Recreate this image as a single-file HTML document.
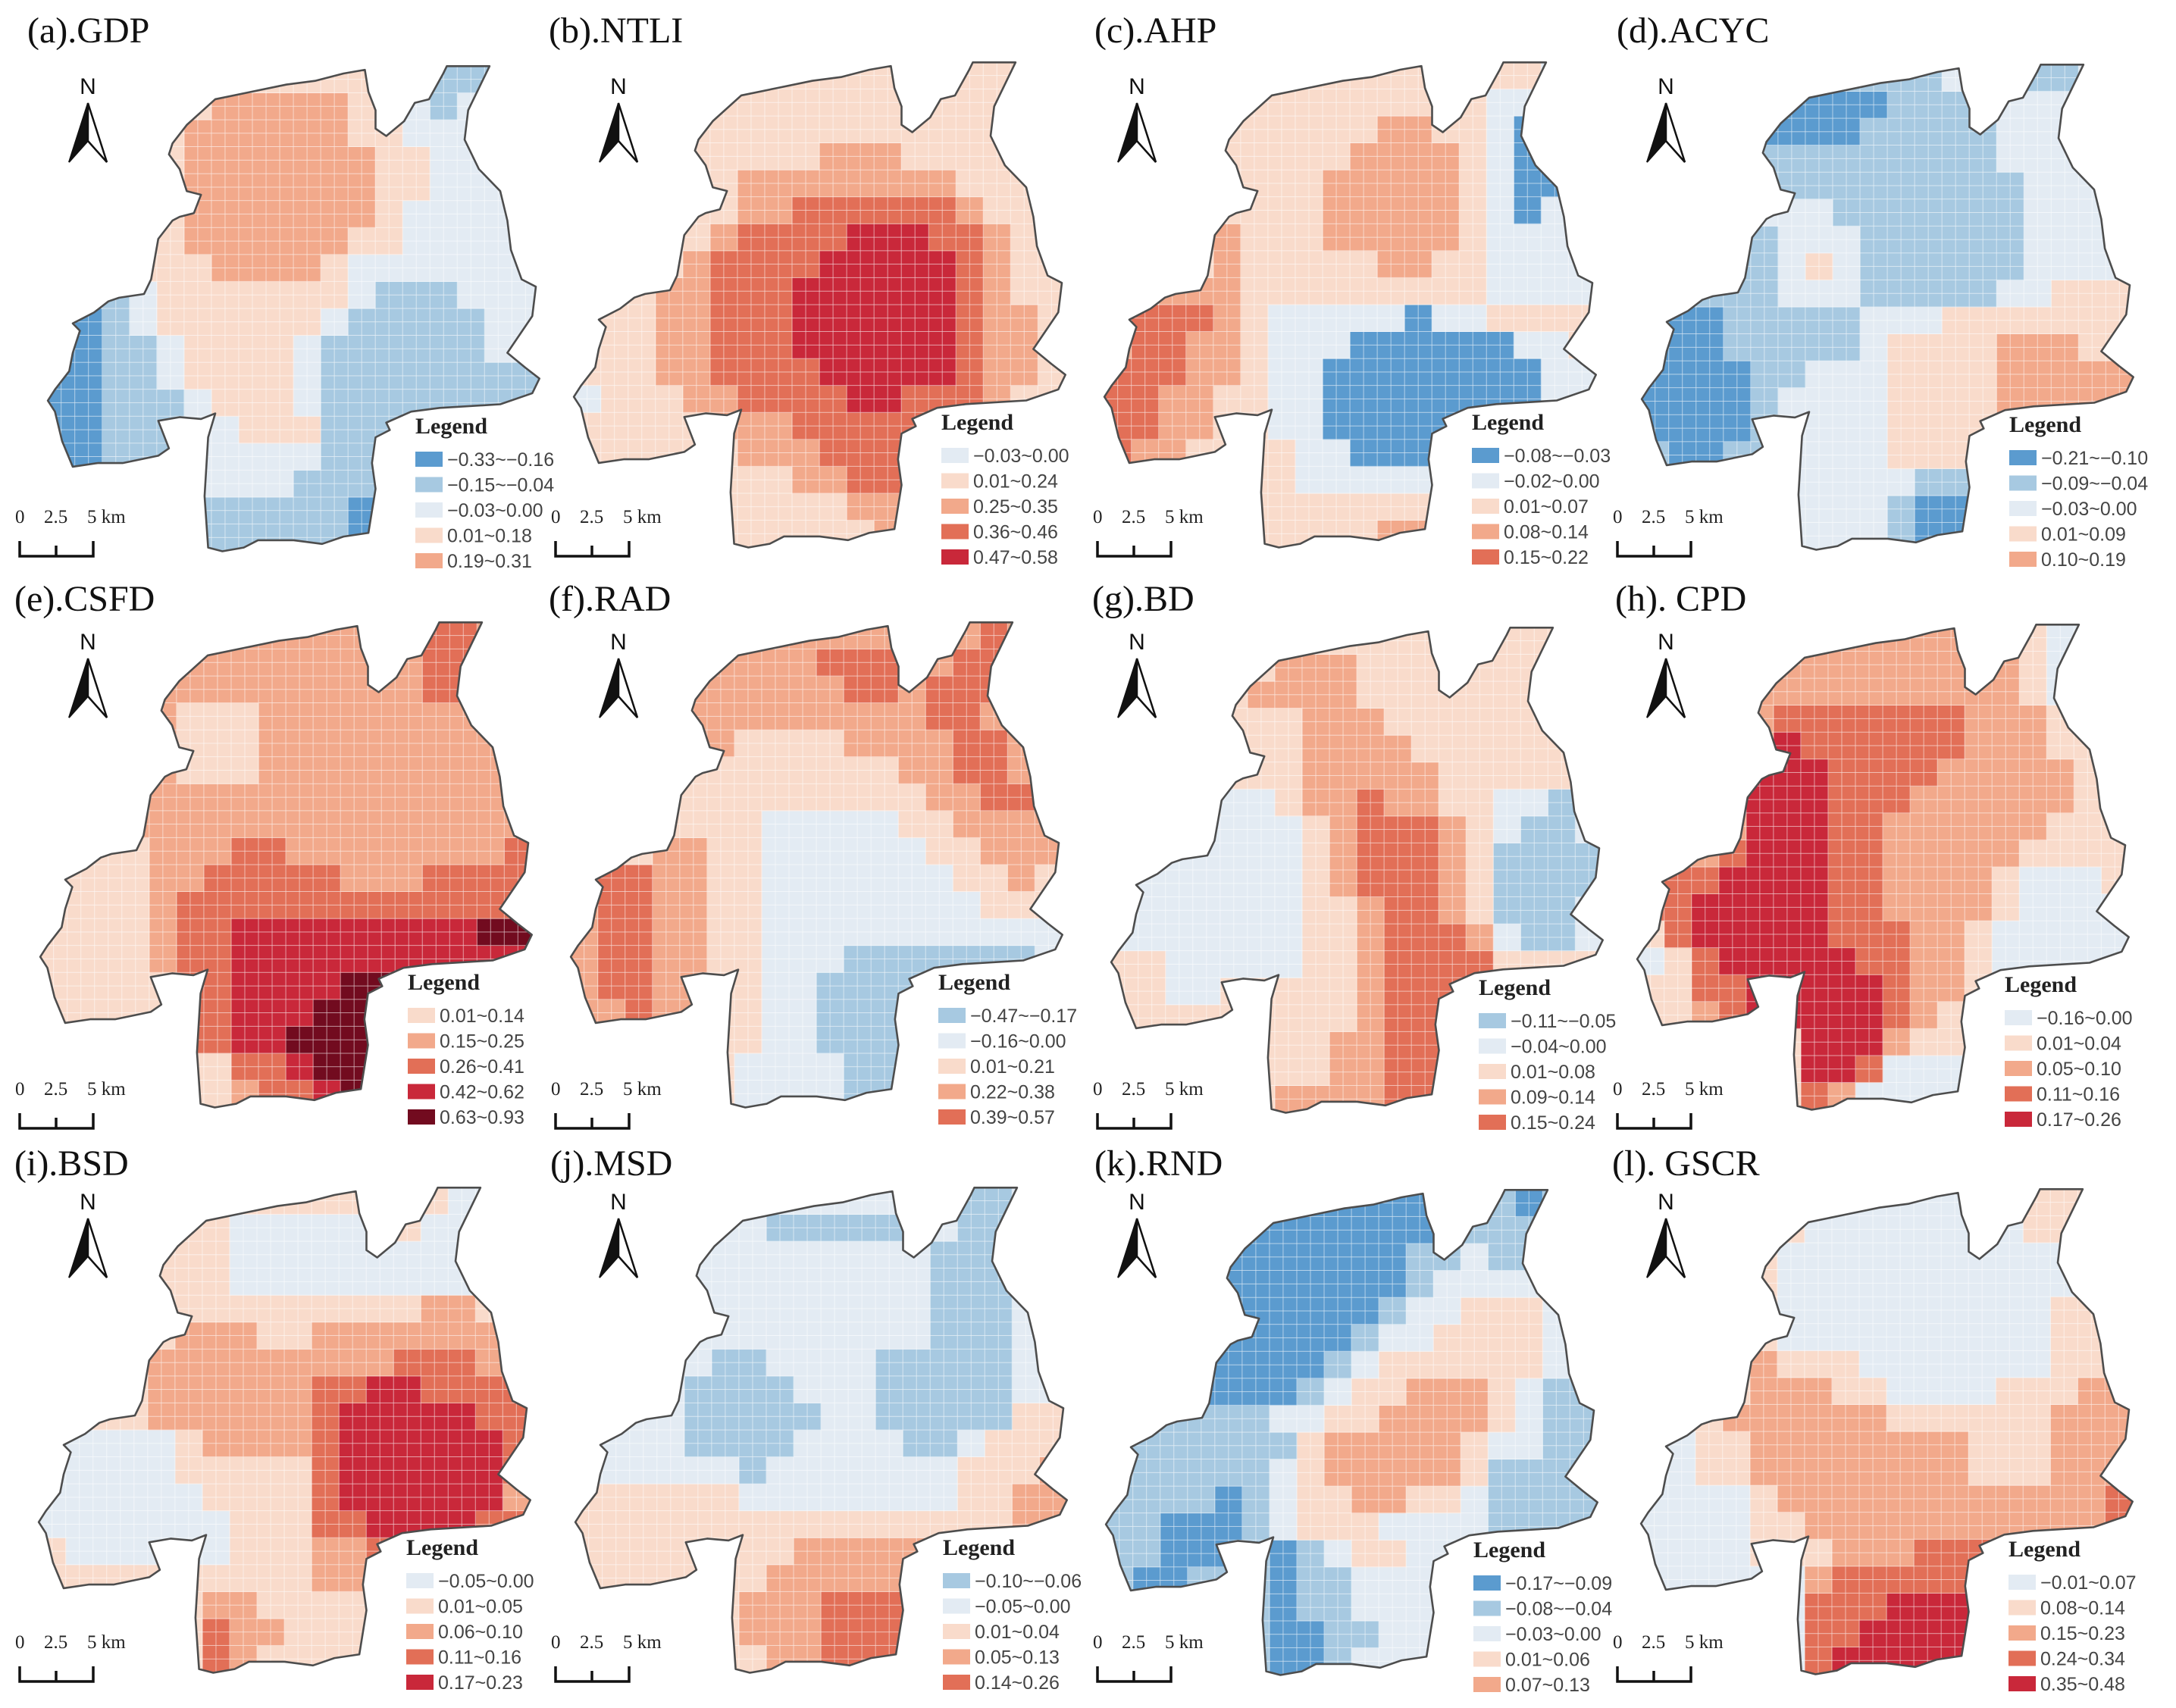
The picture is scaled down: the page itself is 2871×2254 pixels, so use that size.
<!DOCTYPE html>
<html><head><meta charset="utf-8"><title>Spatial coefficient maps</title>
<style>
html,body{margin:0;padding:0;background:#fff;}
svg{display:block;}
.ttl{font-family:"Liberation Serif",serif;font-size:48px;fill:#111;}
.leg{font-family:"Liberation Serif",serif;font-size:30px;font-weight:bold;fill:#222;}
.lab{font-family:"Liberation Sans",sans-serif;font-size:25px;fill:#444;}
.sc{font-family:"Liberation Serif",serif;font-size:25px;fill:#222;}
.nn{font-family:"Liberation Sans",sans-serif;font-size:30px;fill:#111;}
</style></head>
<body>
<svg id="fig" xmlns="http://www.w3.org/2000/svg" width="2871" height="2254" viewBox="0 0 2871 2254">
<rect x="0" y="0" width="2871" height="2254" fill="#ffffff"/>
<defs>
<clipPath id="mapclip" clipPathUnits="userSpaceOnUse"><polygon id="clipPoly" points=""/></clipPath>
<pattern id="gridpat" patternUnits="userSpaceOnUse" x="130" y="180" width="38.333" height="36.667">
<path d="M38.333 0 V36.667 M0 36.667 H38.333" stroke="#ffffff" stroke-width="3" stroke-opacity="0.75" fill="none"/>
</pattern>
</defs>
</svg>
<script>
// ---- data ----
const titles=["(a).GDP","(b).NTLI","(c).AHP","(d).ACYC","(e).CSFD","(f).RAD","(g).BD","(h). CPD","(i).BSD","(j).MSD","(k).RND","(l). GSCR"];
const legendA=["\u22120.33~\u22120.16","\u22120.15~\u22120.04","\u22120.03~0.00","0.01~0.18","0.19~0.31"];
const legendB=["\u22120.03~0.00","0.01~0.24","0.25~0.35","0.36~0.46","0.47~0.58"];
const legendC=["\u22120.08~\u22120.03","\u22120.02~0.00","0.01~0.07","0.08~0.14","0.15~0.22"];
const legendD=["\u22120.21~\u22120.10","\u22120.09~\u22120.04","\u22120.03~0.00","0.01~0.09","0.10~0.19"];
const legendE=["0.01~0.14","0.15~0.25","0.26~0.41","0.42~0.62","0.63~0.93"];
const legendF=["\u22120.47~\u22120.17","\u22120.16~0.00","0.01~0.21","0.22~0.38","0.39~0.57"];
const legendG=["\u22120.11~\u22120.05","\u22120.04~0.00","0.01~0.08","0.09~0.14","0.15~0.24"];
const legendH=["\u22120.16~0.00","0.01~0.04","0.05~0.10","0.11~0.16","0.17~0.26"];
const legendI=["\u22120.05~0.00","0.01~0.05","0.06~0.10","0.11~0.16","0.17~0.23"];
const legendJ=["\u22120.10~\u22120.06","\u22120.05~0.00","0.01~0.04","0.05~0.13","0.14~0.26"];
const legendK=["\u22120.17~\u22120.09","\u22120.08~\u22120.04","\u22120.03~0.00","0.01~0.06","0.07~0.13"];
const legendL=["\u22120.01~0.07","0.08~0.14","0.15~0.23","0.24~0.34","0.35~0.48"];

const gridA=["333333333333331111","333333444443221222","333334444443322222","333334444444332222","333334444444332222","333334444444322222","333334444443322222","333333444432222222","111233333332111222","001233333321111122","001123333211111122","001123333211111111","001112333211111111","001112233311111111","001112222211111111","001112222111111111","111111111110111111","111111111110111111"];
const gridB=["111111111111111111","111111111111111111","111111111111111111","111111111222111111","111111222222221111","111111223333332111","111112333344433211","111123333444443211","111223334444443211","111223334444443221","111223334444443221","111223333444443221","011122333344333211","111112223333322222","111111222333332222","111111112233111111","111111111122111111","111111111112111111"];
const gridC=["222222222222222212","222222222222221112","222222222233221012","222222222333321001","222222223333321001","222222223333321011","222232223333321112","222232222233221111","223332222222221111","344432111110112222","344332111000000112","444332110000000011","443322110000000011","443322110000001111","433222211000011111","222222211111222222","222222222222222222","222222222233222222"];
const gridD=["111111111112211122","000000000111122222","000000001111122222","111111111111122222","111111111111112222","111122211111112222","111112221111112222","111112321111112222","111112221111122333","000111112223333333","000111112333344433","000011222333344444","000012222333344444","000012222333322222","100112222333322222","222222222211222222","222222222100122222","222222222100122222"];
const gridE=["111111111111112211","111111111111112211","111111111111112211","111110001111111111","111110001111111111","111110001111111111","111111111111111111","111111111111111111","000011122111111112","000011222221112222","000012222222222222","000012233333333344","000012233333333333","000002233334422222","000002233344422222","000002233444222222","000000022344222222","000000012234222222"];
const gridF=["333333333333333433","333333333444334433","333333333344344433","333333333333344333","333333222233334433","222222222222334433","222222222222233443","222222211111223333","222332211111122333","344332211111112232","344332211111111222","344332211111111111","344332211100000001","344332211000000000","334332211000022222","333332211000122222","333332111100122222","333332111100122222"];
const gridG=["222222222222222222","222222333222222222","222223333222222222","222222233322222222","222222233332222222","222222233333222222","222211233433221101","111111123444321001","111111123444320000","111111123444320000","111111122344320001","111111122344431001","221111122344442222","221122222344422222","222222222344422222","222222223344222222","222222223344222222","222222333344222222"];
const gridH=["222222222222221002","222222222222221002","222222222222221002","222223333333222111","222224333333222111","222244433332222211","222244433322222211","222244433222222111","222344433222221111","233444433222210001","334444433222210000","134444433322100000","013444443322100000","113344444322111111","112344444321111111","111111444211111111","111111443000111111","111111320000111111"];
const gridI=["111111111111111001","111111100000110011","111111100000000011","111111100000000011","111111111111112211","111112221122222221","111122222222233321","111122222233443333","111122222234444433","000001222234444443","000001111134444443","000000111134444442","000000011133444433","100000011122322222","111111111122311111","111111221111111111","111111322111111111","111111321111111111"];
const gridJ=["111111111111110011","111111100000110011","111111111111100011","111111111111100011","111111111111100011","111111111111100011","111110011110000011","111100001110000011","111100000110000022","111100001111001222","111111011111112223","222222111111112233","222222222222222233","222222223333322222","222222233333322222","222222333444222222","222222333444222222","222222233444222222"];
const gridK=["000000000000011011","000000000000111111","000000000001121122","000000000001222222","000000000012233322","000000000122333322","000000001233333322","000000012334443211","111111223344443211","111111134444432211","111111234444431111","111101233443321111","110001233322221111","110001012332222222","100111011222222222","111111011222222222","111111001122222222","111111001222222222"];
const gridL=["000000000000001111","111111000000001111","111110000000000011","111110000000000011","111110000000000111","111110000000000111","111121110000000111","111122211000011122","111222222111111222","001122222222111222","001122222222111222","000012222222222223","000011222222222223","000011122233322222","000000233333322222","000000333444322222","000000334444222222","000000344444222222"];
const grids=[gridA,gridB,gridC,gridD,gridE,gridF,gridG,gridH,gridI,gridJ,gridK,gridL];
const legends=[legendA,legendB,legendC,legendD,legendE,legendF,legendG,legendH,legendI,legendJ,legendK,legendL];

// ---- styles / layout ----
const DB="#5b9bcf",MB="#a7c9e1",LB="#e3ebf3",PK="#f9dbcb",SA="#f2a98b",OR="#e26f57",RD="#c9283a",MR="#720b1f";
const palettes=[[DB,MB,LB,PK,SA],[LB,PK,SA,OR,RD],[DB,LB,PK,SA,OR],[DB,MB,LB,PK,SA],[PK,SA,OR,RD,MR],[MB,LB,PK,SA,OR],[MB,LB,PK,SA,OR],[LB,PK,SA,OR,RD],[LB,PK,SA,OR,RD],[MB,LB,PK,SA,OR],[DB,MB,LB,PK,SA],[LB,PK,SA,OR,RD]];
const panelTx=[0,694,1394,2103,-10,690,1403,2097,-12,696,1396,2102];
const panelTy=[0,-5,-5,-2,734,734,741,737,1480,1480,1483,1482];
const titleX=[36,724,1444,2133,19,724,1441,2131,19,726,1444,2127];
const rowTitleY=[56,806,1551];
const colX=[20,727,1442,2128];
const northX=[116,816,1500,2198];
const rowNorthY=[124,857,1596];
const rowScaleY=[690,1445,2175];
const outline=[[470,420],[480,390],[520,340],[600,270],[700,250],[800,230],[880,220],[960,200],[1020,190],[1030,250],[1050,300],[1050,350],[1080,370],[1130,330],[1160,280],[1200,270],[1240,200],[1250,180],[1370,180],[1310,300],[1300,380],[1340,460],[1400,520],[1420,600],[1430,680],[1460,760],[1500,780],[1490,860],[1420,960],[1470,1000],[1510,1030],[1490,1070],[1400,1100],[1230,1110],[1150,1120],[1080,1150],[1090,1170],[1050,1190],[1040,1260],[1050,1330],[1030,1450],[960,1460],[900,1480],[820,1470],[720,1470],[680,1490],[620,1500],[580,1490],[570,1350],[580,1190],[600,1125],[560,1140],[500,1135],[440,1145],[470,1220],[440,1240],[340,1260],[270,1260],[200,1270],[170,1200],[150,1120],[130,1090],[150,1060],[190,1010],[200,960],[220,900],[200,880],[260,850],[300,820],[330,810],[400,800],[420,760],[440,650],[480,600],[500,590],[540,580],[560,530],[520,520],[500,460]];
const GX0=130,GY0=180,GW=1380,GH=1320,NR=18,NC=18,SX=0.47,SY=0.485;

const NS="http://www.w3.org/2000/svg";
const svg=document.getElementById('fig');
function mk(tag,attrs,parent){const e=document.createElementNS(NS,tag);for(const k in attrs)e.setAttribute(k,attrs[k]);(parent||svg).appendChild(e);return e;}
const ptsStr=outline.map(p=>p[0]+","+p[1]).join(" ");
document.getElementById('clipPoly').setAttribute('points',ptsStr);
const cw=GW/NC,ch=GH/NR;
function xCell(c){return GX0+c*cw;}
function yCell(r){return GY0+r*ch;}

for(let p=0;p<12;p++){
  const row=Math.floor(p/4),col=p%4;
  const tx=panelTx[p]+2,ty=panelTy[p];
  const pg=mk('g',{});
  
  
  const t=mk('text',{x:titleX[p],y:rowTitleY[row],class:'ttl'},pg);
  t.textContent=titles[p];
  
  
  const mg=mk('g',{transform:`translate(${tx},${ty}) scale(${SX},${SY})`},pg);
  
  
  const cg=mk('g',{'clip-path':'url(#mapclip)'},mg);
  
  
  const grid=grids[p],pal=palettes[p];
  for(let r=0;r<NR;r++){
    for(let c=0;c<NC;c++){
      const k=parseInt(grid[r][c],10);
      const cell=mk('rect',{x:xCell(c),y:yCell(r),width:cw+0.8,height:ch+0.8,fill:pal[k]},cg);
      
      
    }
  }
  const ov=mk('rect',{x:GX0,y:GY0,width:GW,height:GH,fill:'url(#gridpat)'},cg);
  
  
  const ol=mk('polygon',{points:ptsStr,fill:'none',stroke:'#4d4d4d','stroke-width':2.6,'vector-effect':'non-scaling-stroke','stroke-linejoin':'round'},mg);
  
  
  const nx=northX[col],ny=rowNorthY[row];
  const na=mk('g',{},pg);
  
  
  const nt=mk('text',{x:nx,y:ny,'text-anchor':'middle',class:'nn'},na);
  nt.textContent='N';
  
  
  const top=ny+12,bot=ny+90;
  mk('polygon',{points:`${nx},${top} ${nx-25},${bot} ${nx},${bot-28}`,fill:'#111',stroke:'#111','stroke-width':2},na);
  mk('polygon',{points:`${nx},${top} ${nx},${bot-28} ${nx+25},${bot}`,fill:'#fff',stroke:'#111','stroke-width':2.5,'stroke-linejoin':'miter'},na);
  const sx0=colX[col]+4,sy=rowScaleY[row];
  const sb=mk('g',{},pg);
  
  
  const s0=mk('text',{x:sx0-4,y:sy,class:'sc'},sb);s0.textContent='0';
  const s1=mk('text',{x:sx0+34,y:sy,class:'sc'},sb);s1.textContent='2.5';
  const s2=mk('text',{x:sx0+91,y:sy,class:'sc'},sb);s2.textContent='5 km';
  mk('path',{d:`M${sx0+2} ${sy+24} V${sy+44} H${sx0+99} V${sy+24} M${sx0+50} ${sy+30} V${sy+44}`,fill:'none',stroke:'#111','stroke-width':3.5},sb);
  const lx=tx+546,ly=ty+572;
  const lg=mk('g',{},pg);
  
  
  const lt=mk('text',{x:lx,y:ly,class:'leg'},lg);
  lt.textContent='Legend';
  
  
  const labs=legends[p];
  for(let i=0;i<labs.length;i++){
    const yy=ly+34+i*33.5;
    const sw=mk('rect',{x:lx,y:yy-10,width:36,height:20,fill:pal[i]},lg);
    
    
    const tl=mk('text',{x:lx+42,y:yy+9,class:'lab'},lg);
    tl.textContent=labs[i];
    
    
  }
}
</script>
</body></html>
